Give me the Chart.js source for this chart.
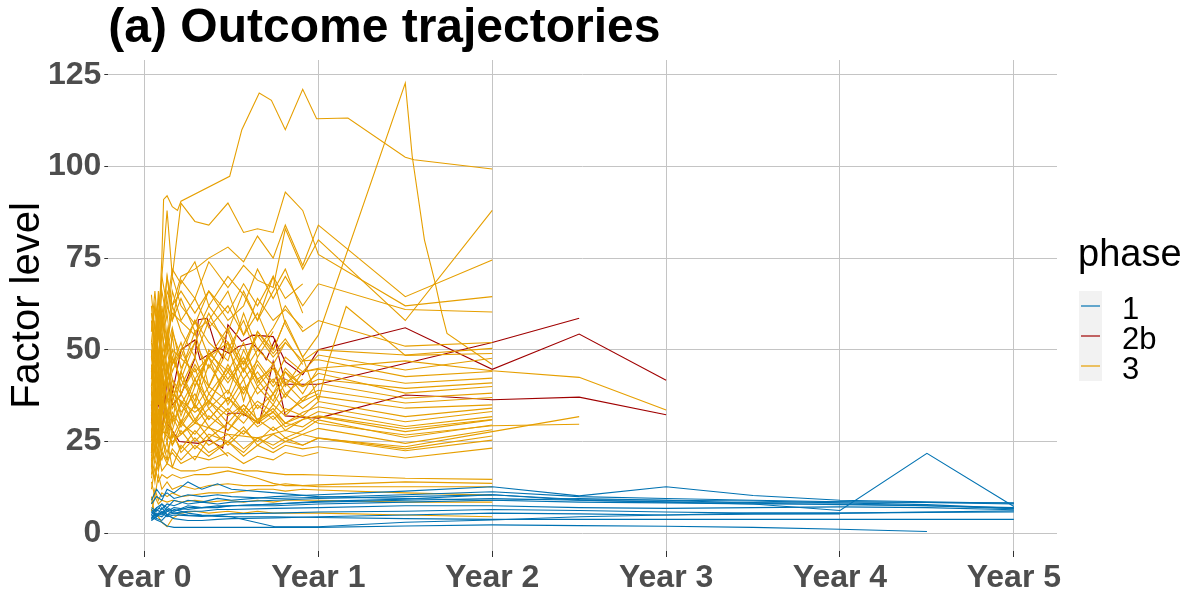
<!DOCTYPE html>
<html><head><meta charset="utf-8">
<script src="https://cdn.jsdelivr.net/npm/chart.js@4.4.1/dist/chart.umd.min.js"></script>
<style>
html,body{margin:0;padding:0;background:#fff;}
#wrap{position:relative;width:1200px;height:600px;font-family:'Liberation Sans',Arial,sans-serif;}
canvas{position:absolute;left:0;top:0;}
.lg{position:absolute;line-height:1;white-space:nowrap;color:#000;}
</style></head><body>
<div id="wrap">
<canvas id="c" width="1200" height="600"></canvas>
<div id="legend"></div>
</div>
<script>
// ---------- text ----------
const chartTitle = '(a) Outcome trajectories';
const yAxisTitle = 'Factor level';
const legendTitle = 'phase';
const phaseNames = ['1', '2b', '3'];
const phaseColors = ['#0072B2', '#A00000', '#E69F00'];
const xTickValues = [0, 1, 2, 3, 4, 5];
const xTickLabels = ['Year 0', 'Year 1', 'Year 2', 'Year 3', 'Year 4', 'Year 5'];
const yTickValues = [0, 25, 50, 75, 100, 125];

// ---------- phase 1 (visit years + one row per subject) ----------
const phase1Times = [0.04,0.07,0.1,0.13,0.17,0.25,0.33,0.42,0.5,0.75,1,1.5,2,2.5,3,3.5,4,4.5,5];
const p1s01 = [5.5,7,6.5,8,7.5,9,8.5,9.5,9,10,10.5,11.5,12.7,10.2,12.7,10.3,9,8.6,8.2];
const p1s02 = [4,5.5,5,6.5,6,7,7,7.5,7.5,8,8.5,9,9.5,9,8.5,8,6.2,21.8,7.3];
const p1s03 = [4.5,3.6,3,2,1.6,1.6,1.6,1.6,1.6,1.6,1.6,2,2.3,2.1,1.9,1.6,1.1,0.5,null];
const p1s04 = [3.5,5,4.5,6,5.5,5,4.8,4.6,4.5,4.5,4.3,4,3.8,3.8,3.8,3.8,3.8,3.8,3.8];
const p1s05 = [6,4.5,7,5,6.5,5.5,5,4.8,4.5,1.8,1.8,3,3.6,4.5,5,5.5,5.5,5.8,6.1];
const p1s06 = [8,10,9,12,11,14,12,13.5,12,11,10,9.5,9,8.5,8.3,8,8,7.5,6.7];
const p1s07 = [7,6,8,7,9,8,8.5,8,8.5,9,9.5,10,10.5,9,8.6,8.4,8.6,8.4,8.3];
const p1s08 = [5,7,8,6,7,6.5,7,7,7.5,7.5,8,8.5,9,9.5,9,8.8,8.3,7.8,6.8];
const p1s09 = [3.5,4.5,6,5,5.5,6,6,6.5,6.5,6.8,7,7.5,7.5,7,6.8,7,7.2,7,6.4];
const p1s10 = [6.5,5,5.5,4.5,5,4.8,4.6,5,5.3,5.5,5.8,6,6.5,6.2,5.8,5.5,5.5,5.7,5.8];
const p1s11 = [4,6.5,5.5,7,6,7.5,7,7.2,7.5,8,8.7,9.3,10.5,9.2,9,8.2,7.8,7.5,7];
const p1s12 = [5,4,3.5,5,4,3.5,3.5,3.8,4,4.2,4.5,5,5.5,5.3,5,5.2,5.3,null,null];
const p1s13 = [9,12,10,11,9.5,10.5,10,10.5,10,9.5,9.8,10.5,11.3,10,9.5,9,8.6,8.4,8];
const phase1Rows = [p1s01,p1s02,p1s03,p1s04,p1s05,p1s06,p1s07,p1s08,p1s09,p1s10,p1s11,p1s12,p1s13];

// ---------- phase 2b ([year, value] per visit) ----------
const p2s1 = [[0.04,35],[0.06,28],[0.08,40],[0.1,33],[0.13,45],[0.16,38],[0.21,50],[0.29,52.7],[0.32,47.3],[0.43,50.5],[0.49,49],[0.54,50.9],[0.62,51.8],[0.68,49],[0.7,47.3],[0.75,52.7],[0.81,40.6],[1.0,40.6],[2.0,52],[2.5,58.6]];
const p2s2 = [[0.04,22],[0.06,30],[0.08,38],[0.1,27],[0.13,42],[0.16,35],[0.21,37.7],[0.29,47.7],[0.31,58.2],[0.36,58.6],[0.41,50.9],[0.45,47.7],[0.48,56.8],[0.56,52.3],[0.62,54],[0.74,53.6],[0.81,46.8],[0.91,43.2],[1.0,50],[1.5,56],[2.0,44.7],[2.5,54.3],[3.0,41.7]];
const p2s3 = [[0.04,30],[0.06,40],[0.08,35],[0.1,45],[0.13,30],[0.16,28],[0.2,25],[0.31,24.5],[0.37,25.4],[0.42,24.1],[0.45,23.2],[0.48,32.7],[0.56,32.7],[0.66,30],[0.74,46.8],[0.81,32],[1.0,31.4],[1.5,37.7],[1.7,37.3],[2.0,36.4],[2.5,37.1],[3.0,32.3]];
const phase2bSeries = [p2s1,p2s2,p2s3];

// ---------- phase 3 (visit years + one row per subject) ----------
const phase3Times = [0.04,0.06,0.08,0.1,0.13,0.16,0.21,0.29,0.37,0.48,0.57,0.65,0.74,0.81,0.91,1.0,1.5,2.0];
const p3r01 = [40,52,45,70,88,70,90,85,84,90,82,83,82,93,88,76,62,64.5];
const p3r02 = [48,38,60,52,66,62,70,72,75,78,74,81,75,84,73,84,64.5,74.5];
const p3r03 = [52,44,58,48,62,58,69,64,74,67,73,69,67,83,72,80,58,88];
const p3r04 = [58,48,64,56,70,62,66,60,66,58,62,72,64,70,62,68,61,60.3];
const p3r05 = [30,42,35,50,40,55,48,58,52,47,60,50,56,62,55,58,51,52];
const p3r06 = [25,38,30,45,36,48,42,52,45,55,44,50,46,52,47,50,48.6,50.4];
const p3r07 = [36,28,44,38,50,42,38,46,40,50,42,47,41,48,44,48.6,44.5,47.7];
const p3r08 = [45,34,50,40,56,46,52,40,49,44,52,41,46,40,47,47.3,42.7,44.1];
const p3r09 = [22,32,26,40,30,36,44,34,40,36,45,38,42,37,44,44.7,40.9,42.3];
const p3r10 = [38,48,40,55,45,50,40,48,38,45,39,44,38,42,40,43.6,38.2,40];
const p3r11 = [28,22,34,26,38,30,35,42,34,39,33,40,35,41,36,40.9,36.8,38.2];
const p3r12 = [32,40,28,36,30,40,33,38,31,37,32,36,33,38,34,37.3,34.1,35];
const p3r13 = [20,30,24,34,28,36,30,35,29,34,30,35,31,34,32,35.9,31.8,34.1];
const p3r14 = [40,30,45,35,42,34,38,31,36,30,35,31,34,30,33,34.5,30.4,33.2];
const p3r15 = [26,36,30,42,33,28,36,30,34,28,33,29,32,28,31,33.2,29.1,31.8];
const p3r16 = [18,26,22,30,25,32,27,31,26,30,27,31,28,30,29,31.8,27.7,30.9];
const p3r17 = [35,25,38,28,34,26,31,25,29,24,28,25,29,26,28,30.9,26.1,29.5];
const p3r18 = [24,20,28,22,30,24,28,23,27,25,29,24,27,25,27,28.6,24.5,28.2];
const p3r19 = [22,28,20,26,22,27,23,28,24,27,23,26,24,26,24,25.9,22.5,25.4];
const p3r20 = [16,24,18,26,20,28,22,26,22,25,21,24,22,24,23,23.6,20.5,23.2];
const p3r21 = [55,62,48,58,50,56,45,52,60,50,58,48,55,null,null,null,null,null];
const p3r22 = [62,50,66,55,70,58,64,55,58,66,54,60,50,58,null,null,null,null];
const p3r23 = [35,45,38,50,42,30,44,55,40,52,36,48,null,null,null,null,null,null];
const p3r24 = [44,52,36,48,40,54,38,45,35,46,38,null,null,null,null,null,null,null];
const p3r25 = [28,35,25,33,45,38,30,40,48,35,42,30,38,45,40,null,null,null];
const p3r26 = [50,40,55,44,36,48,42,35,46,38,50,42,36,44,38,45,null,null];
const p3r27 = [65,55,60,70,62,72,68,74,62,70,65,58,66,72,60,null,null,null];
const p3r28 = [18,15,22,20,25,18,24,20,26,21,null,null,null,null,null,null,null,null];
const p3r29 = [18,24,19,22,20,22,19,21,20,22,19,21,20,22,21,22,null,null];
const p3r30 = [12,18,14,16,15,16,15,16,16,17,16,15,13.6,13,13,12.7,12.7,12.7];
const p3r31 = [20,14,22,17,19,18,17,17,18,18,17,17,16.4,16,16,15.9,15,14.7];
const p3r32 = [8,12,9,11,10,11,10,10.5,11,11,11.5,12,12,11.5,12,11.8,11,10.4];
const p3r33 = [14,10,16,12,14,12,13,12,13,13.5,13,13,13,13.5,13,13.2,14,13.6];
const p3r34 = [6,10,8,9,8.5,9,8.5,9,8.5,9,8.5,9,8.5,9,9,9,8.5,8.5];
const p3r35 = [10,5,4.5,3,1.8,4,5.5,6,5.5,6,5.5,6,5.5,5.5,5.5,5.5,5,4.5];
const p3r36 = [42,55,47,60,50,62,55,48,58,52,44,55,49,53,46,null,null,null];
const p3r37 = [33,26,40,31,46,36,44,36,50,42,48,40,45,38,42,null,null,null];
const p3r38 = [60,52,58,48,54,46,50,58,48,56,46,54,48,52,null,null,null,null];
const p3r39 = [27,33,29,38,31,42,35,30,38,33,40,34,38,33,36,38,null,null];
const p3r40 = [48,58,44,62,52,66,58,64,56,62,54,64,58,61,56,null,null,null];
const p3r41 = [21,27,24,31,27,33,29,35,31,37,33,30,35,32,37,39,35.5,37];
const p3r42 = [38,30,42,34,46,40,32,42,36,44,38,46,40,44,40,42,39.5,41];
const p3r43 = [24,30,27,34,28,24,30,27,32,28,34,30,33,29,31,32,28.5,31];
const p3r44 = [15,20,17,22,19,23,20,24,21,25,22,26,23,25,24,26,23,26.5];
const p3r45 = [52,62,56,66,58,70,62,57,66,60,68,62,70,64,68,null,null,null];
const phase3Rows = [p3r01,p3r02,p3r03,p3r04,p3r05,p3r06,p3r07,p3r08,p3r09,p3r10,p3r11,p3r12,p3r13,p3r14,p3r15,p3r16,p3r17,p3r18,p3r19,p3r20,p3r21,p3r22,p3r23,p3r24,p3r25,p3r26,p3r27,p3r28,p3r29,p3r30,p3r31,p3r32,p3r33,p3r34,p3r35,p3r36,p3r37,p3r38,p3r39,p3r40,p3r41,p3r42,p3r43,p3r44,p3r45];

// phase 3 subjects with irregular visits ([year, value])
const p3x1 = [[0.04,55],[0.06,66],[0.08,55],[0.1,75],[0.11,91],[0.13,92],[0.16,89],[0.19,88],[0.21,90.5],[0.49,97.3],[0.56,110],[0.66,120],[0.73,118],[0.81,110],[0.91,121],[0.99,113],[1.17,113.2],[1.5,102.5],[1.55,101.8],[2.0,99.3]];
const p3x2 = [[0.04,35],[0.08,45],[0.1,38],[0.16,50],[0.29,44],[0.37,48],[0.48,52],[0.57,46],[0.65,55],[0.74,50],[0.81,58],[0.91,48],[1.0,54],[1.5,122.7],[1.54,102.7],[1.61,80],[1.67,68.6],[1.71,60],[1.74,54.5],[2.0,46]];
const p3x3 = [[0.04,42],[0.08,55],[0.1,45],[0.16,60],[0.29,54],[0.37,62],[0.48,55],[0.57,66],[0.65,58],[0.74,70],[0.81,57],[0.91,48],[1.0,36],[1.06,47.3],[1.16,61.8],[1.5,48.5],[2.0,49]];
const p3x4 = [[0.04,30],[0.08,22],[0.1,28],[0.16,25],[0.29,30],[0.48,27],[0.65,26],[0.81,28],[1.0,25.9],[1.5,23.6],[2.0,27.7],[2.5,31.8]];
const p3x5 = [[0.04,46],[0.06,36],[0.08,42],[0.1,34],[0.16,38],[0.29,33],[0.37,36],[0.48,32],[0.57,35],[0.65,31],[0.74,33],[0.81,30],[0.91,32],[1.0,30],[1.5,26.8],[2.0,29.3],[2.5,29.7]];
const p3x6 = [[0.04,50],[0.06,40],[0.08,56],[0.1,46],[0.13,52],[0.16,44],[0.21,50],[0.29,42],[0.37,48],[0.48,41],[0.57,47],[0.65,42],[0.74,45],[0.81,41],[0.91,44],[1.0,45],[1.5,47],[2.0,44.3],[2.5,42.5],[3.0,33.6]];
const phase3Extra = [p3x1,p3x2,p3x3,p3x4,p3x5,p3x6];

// ---------- build datasets (first dataset is drawn on top) ----------
function rowToPoints(times, row) {
  const pts = [];
  row.forEach((v, i) => { if (v !== null) pts.push({ x: times[i], y: v }); });
  return pts;
}
function pairsToPoints(pairs) { return pairs.map(p => ({ x: p[0], y: p[1] })); }
function ds(points, color) {
  return { data: points, borderColor: color, backgroundColor: color, borderWidth: 1.1,
           pointRadius: 0, pointHoverRadius: 0, fill: false, tension: 0, spanGaps: true };
}
const datasets = [];
phase1Rows.forEach(r => datasets.push(ds(rowToPoints(phase1Times, r), phaseColors[0])));
phase3Rows.forEach(r => datasets.push(ds(rowToPoints(phase3Times, r), phaseColors[2])));
phase3Extra.forEach(s => datasets.push(ds(pairsToPoints(s), phaseColors[2])));
phase2bSeries.forEach(s => datasets.push(ds(pairsToPoints(s), phaseColors[1])));

const FONT = "'Liberation Sans', Arial, sans-serif";

new Chart(document.getElementById('c'), {
  type: 'line',
  data: { datasets },
  options: {
    responsive: false,
    animation: false,
    devicePixelRatio: 1,
    events: [],
    layout: { padding: { left: 0, right: 143, top: 0, bottom: 0 } },
    plugins: {
      legend: { display: false },
      tooltip: { enabled: false },
      title: {
        display: true, text: chartTitle, align: 'start', fullSize: false, color: '#000',
        font: { family: FONT, size: 48, weight: 'bold', lineHeight: 1.2 },
        padding: { top: 0, bottom: 2.4 }
      }
    },
    scales: {
      x: {
        type: 'linear', min: -0.208, max: 5.248,
        afterBuildTicks: s => { s.ticks = xTickValues.map(v => ({ value: v })); },
        afterFit: s => { s.height = 49; },
        border: { display: false },
        grid: { color: '#c4c4c4', lineWidth: 1, drawTicks: true, tickLength: 6, tickColor: '#333333', tickWidth: 1 },
        ticks: {
          color: '#4D4D4D', padding: 2, maxRotation: 0, autoSkip: false,
          font: { family: FONT, size: 32, weight: 'bold' },
          callback: (v, i) => xTickLabels[i]
        }
      },
      y: {
        type: 'linear', min: -4.83, max: 129,
        afterBuildTicks: s => { s.ticks = yTickValues.map(v => ({ value: v })); },
        afterFit: s => { s.width = 108.3; },
        border: { display: false },
        grid: { color: '#c4c4c4', lineWidth: 1, drawTicks: true, tickLength: 4, tickColor: '#333333', tickWidth: 1 },
        ticks: {
          color: '#4D4D4D', padding: 3, autoSkip: false,
          font: { family: FONT, size: 32, weight: 'bold' },
          callback: (v, i) => String(yTickValues[i])
        },
        title: {
          display: true, text: yAxisTitle, color: '#000',
          font: { family: FONT, size: 40, weight: 'normal', lineHeight: 1.2 },
          padding: { top: 4, bottom: 0 }
        }
      }
    }
  }
});

// ---------- legend (HTML) ----------
(function () {
  const lg = document.getElementById('legend');
  let html = '<div class="lg" style="left:1078px;top:234px;font-size:38px;">' + legendTitle + '</div>';
  html += '<svg style="position:absolute;left:1079px;top:291px" width="23" height="90">' +
          '<rect x="0" y="0" width="23" height="90" fill="#f2f2f2"/>';
  phaseNames.forEach((n, i) => {
    const y = 15 + i * 30;
    html += '<line x1="2" x2="21" y1="' + y + '" y2="' + y + '" stroke="' + phaseColors[i] + '" stroke-width="1.2"/>';
  });
  html += '</svg>';
  phaseNames.forEach((n, i) => {
    html += '<div class="lg" style="left:1122px;top:' + (293 + i * 30) + 'px;font-size:31px;">' + n + '</div>';
  });
  lg.innerHTML = html;
})();
</script>
</body></html>
